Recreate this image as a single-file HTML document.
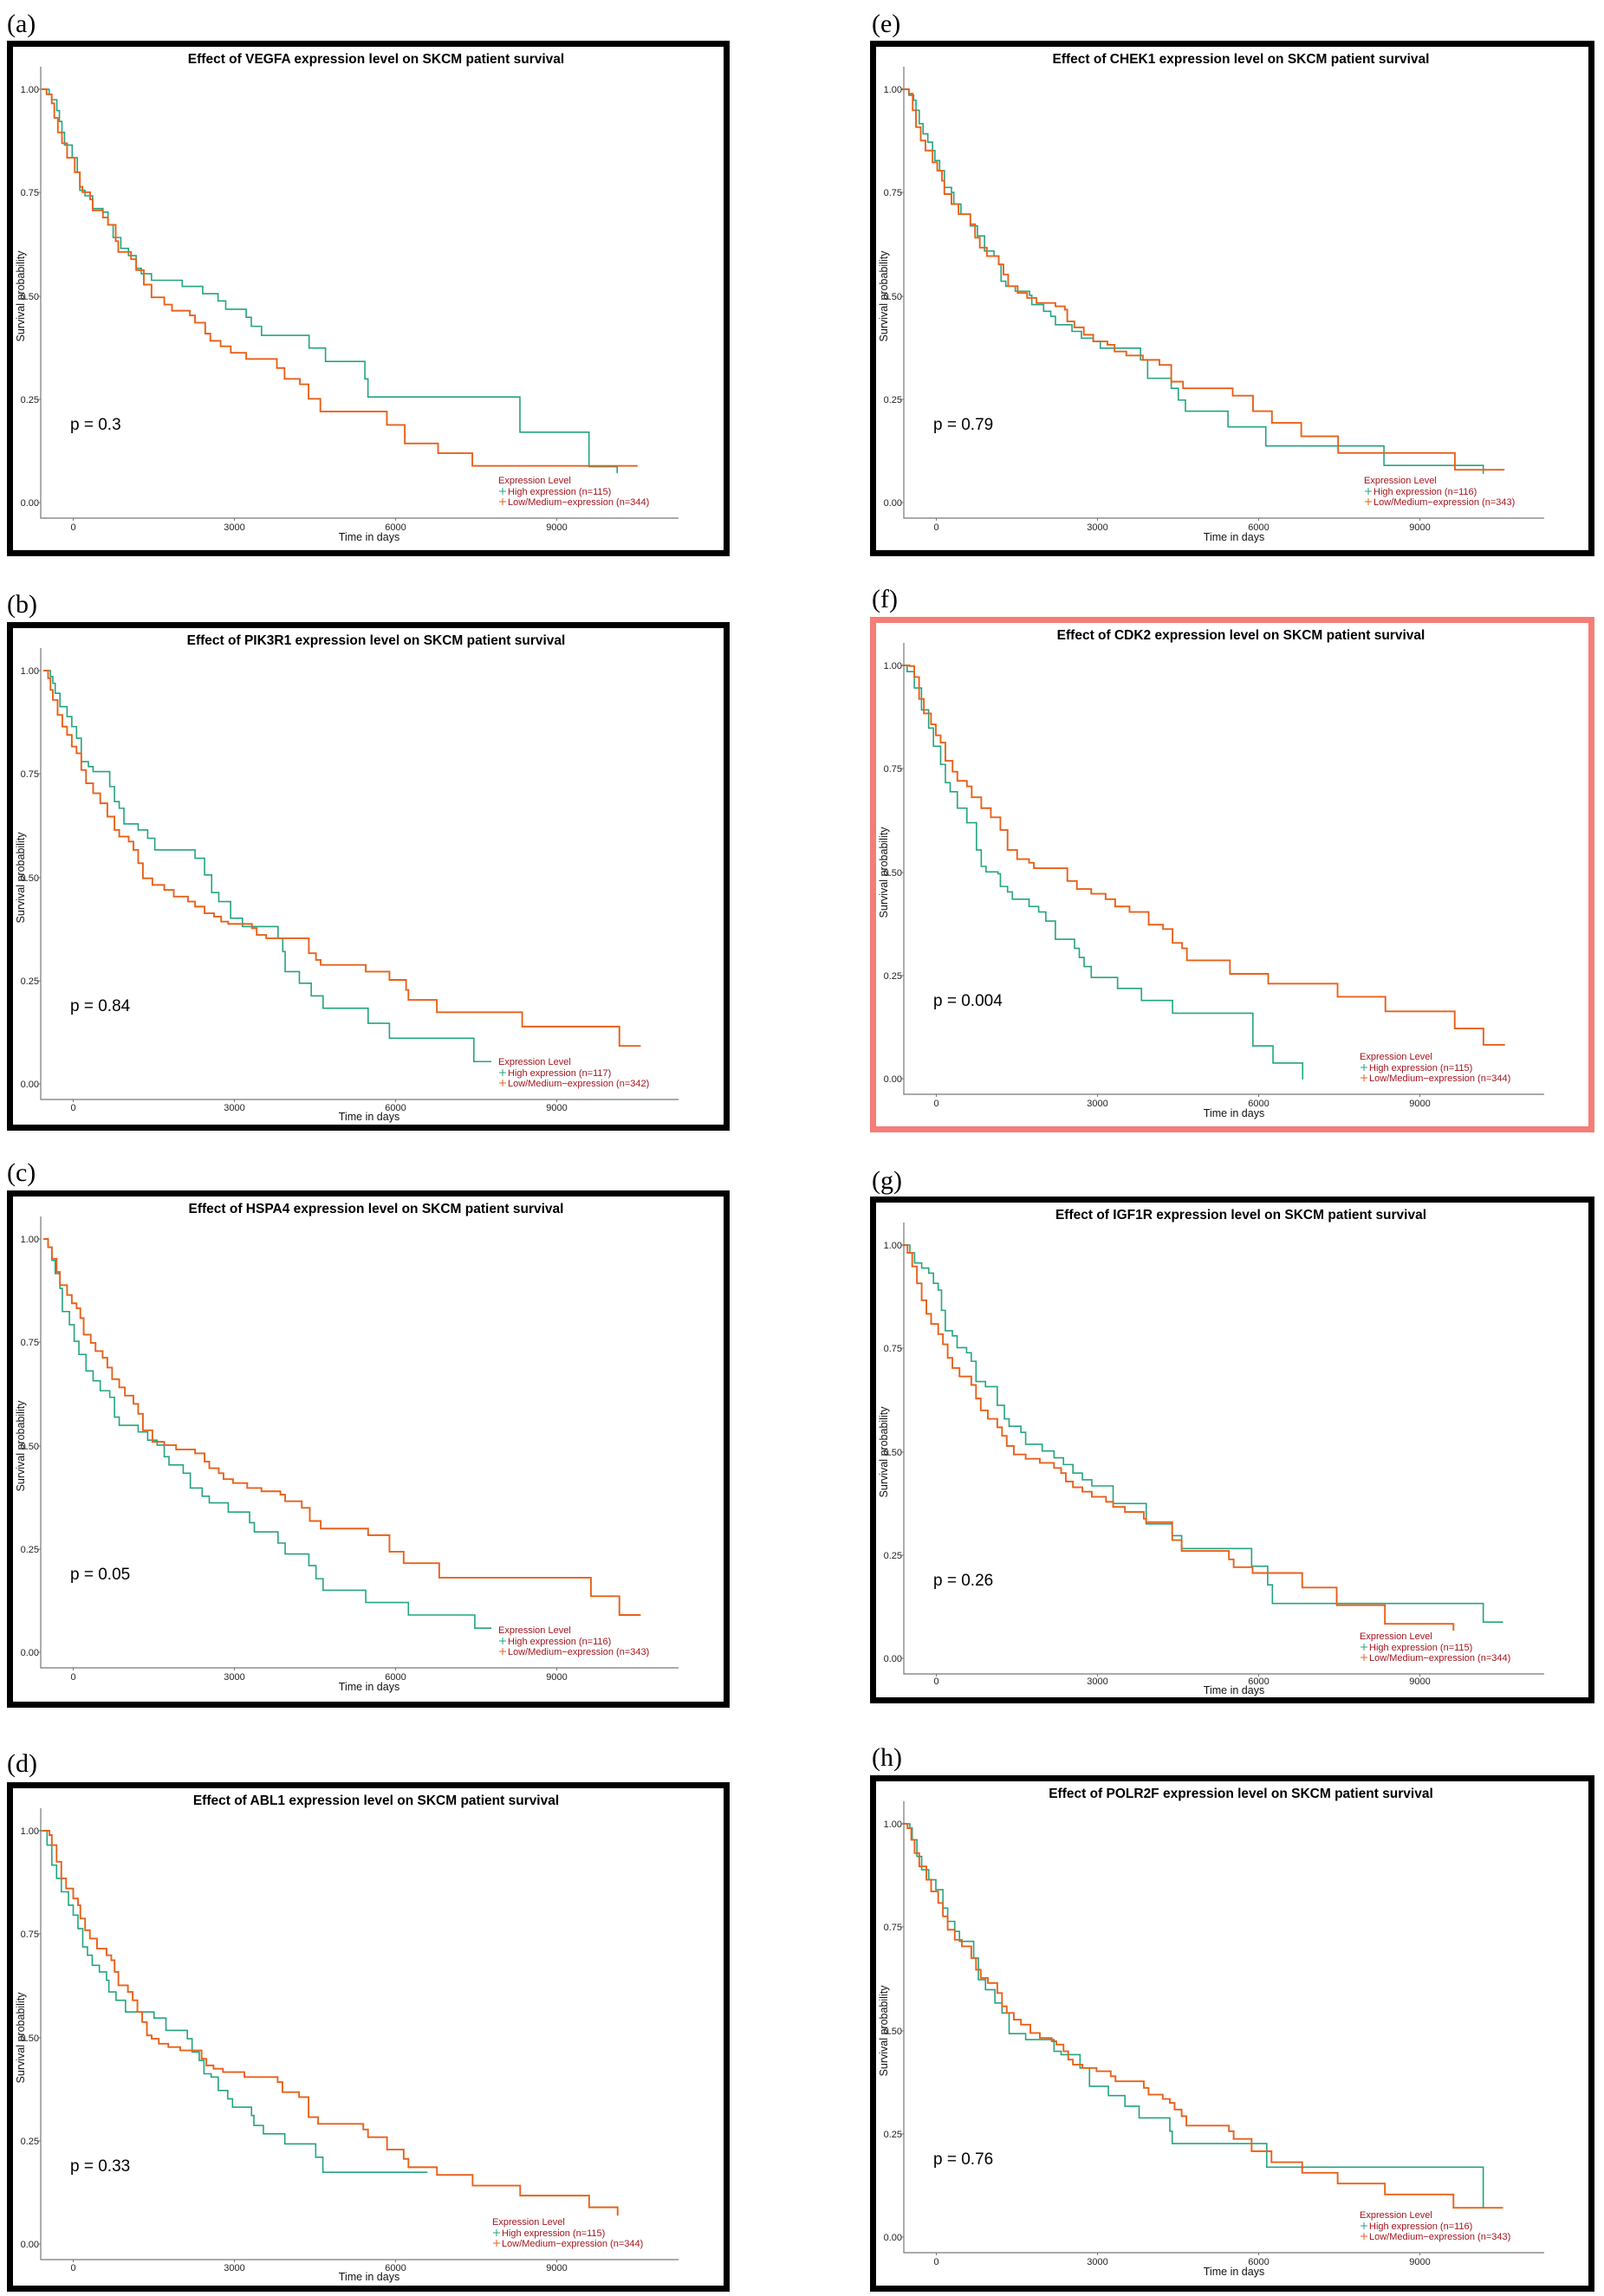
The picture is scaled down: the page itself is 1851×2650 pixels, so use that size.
<!DOCTYPE html>
<html><head><meta charset="utf-8"><style>
html,body{margin:0;padding:0;background:#fff;}
svg{display:block;}
.t{font-family:"Liberation Sans",sans-serif;font-weight:bold;font-size:15.5px;text-anchor:middle;fill:#000;}
.tk{font-family:"Liberation Sans",sans-serif;font-size:11px;fill:#222;}
.ax{font-family:"Liberation Sans",sans-serif;font-size:12.5px;fill:#111;}
.p{font-family:"Liberation Sans",sans-serif;font-size:19px;fill:#000;}
.lg{font-family:"Liberation Sans",sans-serif;font-size:11px;fill:#a3141c;}
.lab{font-family:"Liberation Serif",serif;font-size:30px;fill:#000;}
.te{fill:none;stroke:#23a480;stroke-width:1.6;vector-effect:non-scaling-stroke;}
.or{fill:none;stroke:#e8611a;stroke-width:1.9;vector-effect:non-scaling-stroke;}
</style></head><body>
<svg width="1851" height="2650" viewBox="0 0 1851 2650" xmlns="http://www.w3.org/2000/svg">
<rect width="1851" height="2650" fill="#fff"/>

<text class="lab" x="8" y="37">(a)</text>
<text class="lab" x="8" y="707">(b)</text>
<text class="lab" x="8" y="1363">(c)</text>
<text class="lab" x="8" y="2045">(d)</text>
<text class="lab" x="1006" y="37">(e)</text>
<text class="lab" x="1006" y="701">(f)</text>
<text class="lab" x="1006" y="1372">(g)</text>
<text class="lab" x="1006" y="2038">(h)</text>

<!-- (a) -->
<g transform="translate(8,47)">
<rect x="3.5" y="3.5" width="827" height="588" fill="#fff" stroke="#000" stroke-width="7"/>
<text class="t" x="426" y="26">Effect of VEGFA expression level on SKCM patient survival</text>
<g transform="translate(-7.35,-44.84) scale(0.5905,0.4184)">
<path class="te" d="M80 241 H95 V255 H100 V270 H110 V300 H115 V330 H120 V360 H125 V395 H140 V430 H150 V470 H155 V520 H165 V535 H180 V570 H200 V580 H210 V615 H220 V650 H235 V680 H250 V700 H265 V735 H275 V750 H295 V768 H355 V785 H395 V805 H425 V825 H440 V848 H480 V870 H490 V895 H510 V920 H603 V955 H635 V992 H712 V1040 H718 V1090 H1015 V1187 H1150 V1282 H1205 V1300"/>
<path class="or" d="M80 241 H90 V255 H100 V280 H105 V320 H112 V360 H120 V390 H130 V430 H145 V470 H155 V510 H160 V525 H175 V545 H180 V575 H200 V595 H210 V615 H225 V660 H230 V690 H255 V710 H265 V740 H280 V780 H295 V815 H320 V835 H335 V852 H370 V865 H380 V885 H400 V915 H410 V935 H430 V950 H450 V968 H480 V985 H540 V1010 H555 V1040 H585 V1055 H602 V1095 H625 V1130 H755 V1167 H790 V1218 H855 V1245 H922 V1280 H1245"/>
</g>
<text class="p" x="73" y="449">p = 0.3</text>
</g>

<!-- (b) -->
<g transform="translate(8,718)">
<rect x="3.5" y="3.5" width="827" height="580" fill="#fff" stroke="#000" stroke-width="7"/>
<text class="t" x="426" y="26">Effect of PIK3R1 expression level on SKCM patient survival</text>
<g transform="translate(-7.2,-2.47) scale(0.5471,0.3847)">
<path class="te" d="M90 152 H105 V170 H110 V190 H115 V220 H125 V260 H140 V290 H150 V320 H160 V355 H170 V425 H185 V440 H195 V455 H230 V500 H240 V545 H250 V565 H260 V612 H290 V630 H310 V655 H325 V690 H410 V715 H430 V765 H445 V818 H460 V845 H485 V895 H510 V920 H585 V955 H595 V995 H600 V1055 H630 V1090 H655 V1128 H680 V1165 H775 V1210 H820 V1255 H998 V1325 H1035"/>
<path class="or" d="M90 152 H100 V175 H105 V210 H110 V240 H120 V285 H130 V320 H140 V345 H150 V380 H160 V400 H170 V450 H180 V490 H195 V520 H210 V550 H225 V590 H240 V630 H250 V650 H270 V665 H280 V690 H290 V730 H300 V775 H320 V795 H345 V810 H365 V830 H395 V845 H410 V860 H430 V880 H450 V890 H465 V905 H480 V912 H530 V925 H540 V945 H560 V955 H650 V1000 H665 V1020 H675 V1035 H770 V1055 H820 V1080 H855 V1110 H860 V1140 H920 V1177 H1100 V1220 H1305 V1278 H1350"/>
</g>
<text class="p" x="73" y="449">p = 0.84</text>
</g>

<!-- (c) -->
<g transform="translate(8,1374)">
<rect x="3.5" y="3.5" width="827" height="590" fill="#fff" stroke="#000" stroke-width="7"/>
<text class="t" x="426" y="26">Effect of HSPA4 expression level on SKCM patient survival</text>
<g transform="translate(-7.2,-1.1) scale(0.5471,0.3807)">
<path class="te" d="M90 150 H100 V175 H108 V215 H115 V255 H125 V300 H130 V370 H145 V410 H155 V460 H165 V500 H180 V550 H195 V580 H210 V610 H230 V630 H240 V690 H250 V715 H290 V735 H310 V760 H330 V775 H345 V810 H355 V835 H385 V860 H400 V905 H425 V930 H440 V950 H480 V978 H525 V1010 H535 V1038 H585 V1072 H600 V1105 H650 V1140 H665 V1180 H680 V1215 H770 V1252 H860 V1290 H1000 V1330 H1035"/>
<path class="or" d="M90 150 H100 V175 H108 V210 H118 V250 H125 V290 H140 V320 H150 V345 H160 V360 H168 V390 H175 V440 H190 V465 H200 V490 H215 V510 H225 V540 H235 V575 H250 V600 H262 V625 H280 V650 H290 V680 H300 V730 H320 V765 H345 V775 H370 V788 H410 V800 H430 V825 H440 V845 H460 V860 H470 V878 H490 V890 H520 V905 H550 V915 H590 V925 H600 V945 H635 V965 H652 V1005 H675 V1028 H775 V1048 H820 V1098 H850 V1133 H925 V1177 H1245 V1233 H1305 V1290 H1350"/>
</g>
<text class="p" x="73" y="449">p = 0.05</text>
</g>

<!-- (d) -->
<g transform="translate(8,2057)">
<rect x="3.5" y="3.5" width="827" height="581" fill="#fff" stroke="#000" stroke-width="7"/>
<text class="t" x="426" y="26">Effect of ABL1 expression level on SKCM patient survival</text>
<g transform="translate(-3.06,-4.49) scale(0.5487,0.3853)">
<path class="te" d="M75 157 H90 V200 H100 V260 H110 V300 H120 V340 H135 V380 H145 V410 H155 V450 H165 V505 H175 V530 H185 V560 H200 V580 H215 V605 H220 V640 H235 V665 H255 V700 H315 V718 H340 V755 H385 V780 H395 V820 H410 V845 H420 V885 H435 V895 H450 V935 H470 V960 H480 V985 H520 V1010 H525 V1040 H545 V1065 H590 V1095 H655 V1135 H670 V1180 H890"/>
<path class="or" d="M80 157 H95 V170 H100 V200 H110 V250 H120 V300 H130 V330 H145 V360 H155 V380 H160 V420 H170 V455 H180 V480 H195 V510 H215 V530 H225 V545 H232 V580 H240 V620 H260 V640 H270 V665 H280 V700 H290 V730 H300 V770 H310 V780 H325 V795 H345 V805 H370 V815 H415 V840 H425 V860 H440 V870 H460 V880 H505 V895 H575 V910 H585 V940 H620 V955 H640 V1015 H660 V1035 H755 V1052 H765 V1075 H805 V1112 H840 V1140 H850 V1165 H910 V1188 H985 V1220 H1085 V1250 H1230 V1285 H1290 V1310"/>
</g>
<text class="p" x="73" y="449">p = 0.33</text>
</g>

<!-- (e) -->
<g transform="translate(1004,47)">
<rect x="3.5" y="3.5" width="829" height="588" fill="#fff" stroke="#000" stroke-width="7"/>
<text class="t" x="428" y="26">Effect of CHEK1 expression level on SKCM patient survival</text>
<g transform="translate(-15.14,-4.7) scale(0.5455,0.3866)">
<path class="te" d="M95 157 H110 V175 H120 V190 H125 V220 H132 V260 H140 V290 H150 V315 H160 V340 H165 V370 H175 V400 H185 V450 H200 V465 H205 V500 H220 V530 H240 V565 H255 V595 H270 V640 H290 V655 H300 V680 H305 V730 H315 V745 H335 V760 H365 V772 H370 V800 H395 V820 H410 V835 H420 V860 H455 V880 H475 V900 H500 V910 H515 V930 H600 V965 H615 V1020 H665 V1050 H680 V1085 H695 V1118 H785 V1165 H865 V1222 H1115 V1280 H1325 V1305"/>
<path class="or" d="M95 157 H110 V170 H118 V220 H125 V270 H135 V310 H145 V340 H160 V375 H170 V400 H180 V430 H185 V470 H200 V500 H215 V530 H240 V560 H250 V600 H260 V630 H275 V655 H300 V680 H310 V710 H320 V745 H340 V765 H360 V780 H380 V795 H420 V805 H440 V815 H445 V850 H460 V868 H480 V890 H500 V910 H530 V920 H545 V940 H570 V952 H605 V965 H640 V980 H665 V1030 H690 V1050 H795 V1072 H838 V1118 H878 V1153 H940 V1193 H1018 V1243 H1265 V1293 H1370"/>
</g>
<text class="p" x="73" y="449">p = 0.79</text>
</g>

<!-- (f) -->
<g transform="translate(1004,712)">
<rect x="3.5" y="3.5" width="829" height="588" fill="#fff" stroke="#f67d77" stroke-width="7"/>
<text class="t" x="428" y="26">Effect of CDK2 expression level on SKCM patient survival</text>
<g transform="translate(-15.12,-31.42) scale(0.5519,0.4203)">
<path class="te" d="M95 208 H105 V225 H120 V270 H135 V330 H150 V380 H160 V430 H175 V480 H185 V530 H195 V555 H210 V600 H230 V640 H245 V640 H250 V715 H260 V760 H270 V775 H295 V780 H300 V815 H315 V830 H325 V850 H355 V850 H360 V870 H378 V870 H380 V885 H395 V910 H412 V910 H415 V960 H455 V985 H465 V1010 H475 V1035 H490 V1065 H545 V1095 H595 V1128 H660 V1163 H828 V1253 H870 V1300 H932 V1345"/>
<path class="or" d="M95 208 H110 V210 H120 V240 H130 V300 H140 V340 H155 V370 H165 V400 H175 V420 H185 V470 H200 V500 H210 V525 H230 V540 H240 V570 H260 V600 H280 V625 H300 V660 H315 V715 H335 V740 H360 V750 H370 V765 H430 V765 H440 V800 H460 V822 H490 V835 H520 V850 H540 V870 H570 V885 H600 V885 H610 V920 H640 V932 H660 V970 H680 V985 H690 V1018 H780 V1055 H860 V1082 H1005 V1118 H1105 V1158 H1250 V1205 H1310 V1250 H1355"/>
</g>
<text class="p" x="73" y="449">p = 0.004</text>
</g>

<!-- (g) -->
<g transform="translate(1004,1381)">
<rect x="3.5" y="3.5" width="829" height="578" fill="#fff" stroke="#000" stroke-width="7"/>
<text class="t" x="428" y="26">Effect of IGF1R expression level on SKCM patient survival</text>
<g transform="translate(-11.32,-13.2) scale(0.5455,0.391)">
<path class="te" d="M90 177 H105 V200 H115 V230 H130 V245 H145 V260 H155 V290 H165 V310 H172 V370 H180 V430 H195 V445 H205 V480 H225 V495 H235 V520 H245 V580 H265 V595 H290 V650 H305 V690 H315 V712 H340 V730 H350 V765 H385 V785 H410 V805 H430 V825 H450 V850 H470 V870 H490 V888 H535 V940 H605 V1000 H660 V1035 H680 V1073 H828 V1125 H862 V1180 H872 V1235 H1318 V1290 H1360"/>
<path class="or" d="M90 177 H100 V200 H110 V240 H120 V290 H130 V340 H140 V380 H150 V410 H165 V440 H175 V470 H185 V510 H195 V540 H210 V565 H235 V590 H245 V630 H255 V665 H270 V690 H290 V715 H300 V740 H310 V770 H325 V795 H350 V808 H380 V820 H410 V835 H425 V850 H435 V875 H450 V892 H470 V905 H490 V920 H520 V935 H535 V950 H560 V965 H600 V985 H605 V995 H660 V1048 H680 V1080 H780 V1105 H790 V1128 H830 V1145 H935 V1188 H1008 V1240 H1110 V1295 H1255 V1315"/>
</g>
<text class="p" x="73" y="449">p = 0.26</text>
</g>

<!-- (h) -->
<g transform="translate(1004,2049)">
<rect x="3.5" y="3.5" width="829" height="589" fill="#fff" stroke="#000" stroke-width="7"/>
<text class="t" x="428" y="26">Effect of POLR2F expression level on SKCM patient survival</text>
<g transform="translate(-11.32,-2.43) scale(0.5455,0.3844)">
<path class="te" d="M90 152 H105 V165 H110 V200 H120 V250 H130 V290 H145 V320 H160 V350 H175 V405 H185 V445 H200 V475 H210 V505 H240 V555 H250 V620 H265 V650 H285 V690 H300 V720 H315 V782 H350 V800 H410 V835 H425 V845 H465 V885 H485 V940 H525 V968 H560 V1000 H590 V1035 H655 V1075 H660 V1112 H860 V1183 H1318 V1306"/>
<path class="or" d="M90 152 H100 V165 H108 V200 H115 V240 H125 V280 H140 V320 H150 V355 H165 V390 H175 V430 H185 V470 H200 V500 H215 V520 H235 V555 H245 V590 H255 V615 H270 V630 H290 V660 H300 V700 H310 V720 H325 V740 H340 V755 H360 V780 H380 V795 H405 V805 H415 V815 H430 V835 H440 V860 H450 V875 H470 V885 H500 V895 H530 V910 H540 V925 H600 V945 H610 V965 H640 V978 H655 V990 H665 V1010 H680 V1030 H690 V1058 H780 V1075 H790 V1098 H828 V1135 H870 V1168 H935 V1200 H1010 V1232 H1110 V1265 H1255 V1305 H1360"/>
</g>
<text class="p" x="73" y="449">p = 0.76</text>
</g>

<g id="axes">
<g transform="translate(8,47)">
<path d="M39 30 V551 H775" fill="none" stroke="#777" stroke-width="1.2"/>
<path d="M36 56 H39 M36 175 H39 M36 295 H39 M36 414 H39 M36 533 H39 M76.5 551 V554 M262.5 551 V554 M448.5 551 V554 M634.5 551 V554" stroke="#777"/>
<text class="tk" x="37" y="60" text-anchor="end">1.00</text><text class="tk" x="37" y="179" text-anchor="end">0.75</text><text class="tk" x="37" y="299" text-anchor="end">0.50</text><text class="tk" x="37" y="418" text-anchor="end">0.25</text><text class="tk" x="37" y="537" text-anchor="end">0.00</text>
<text class="tk" x="76.5" y="565" text-anchor="middle">0</text><text class="tk" x="262.5" y="565" text-anchor="middle">3000</text><text class="tk" x="448.5" y="565" text-anchor="middle">6000</text><text class="tk" x="634.5" y="565" text-anchor="middle">9000</text>
<text class="ax" x="418" y="577" text-anchor="middle">Time in days</text>
<text class="ax" transform="translate(20,295) rotate(-90)" text-anchor="middle">Survival probability</text>
<text class="lg" x="567" y="511">Expression Level</text>
<path d="M568 520 H576 M572 516 V524" stroke="#23a480"/><text class="lg" x="578" y="524">High expression (n=115)</text>
<path d="M568 532 H576 M572 528 V536" stroke="#e8611a"/><text class="lg" x="578" y="536">Low/Medium−expression (n=344)</text>
</g>
<g transform="translate(8,718)">
<path d="M39 30 V551 H775" fill="none" stroke="#777" stroke-width="1.2"/>
<path d="M36 56 H39 M36 175 H39 M36 295 H39 M36 414 H39 M36 533 H39 M76.5 551 V554 M262.5 551 V554 M448.5 551 V554 M634.5 551 V554" stroke="#777"/>
<text class="tk" x="37" y="60" text-anchor="end">1.00</text><text class="tk" x="37" y="179" text-anchor="end">0.75</text><text class="tk" x="37" y="299" text-anchor="end">0.50</text><text class="tk" x="37" y="418" text-anchor="end">0.25</text><text class="tk" x="37" y="537" text-anchor="end">0.00</text>
<text class="tk" x="76.5" y="564" text-anchor="middle">0</text><text class="tk" x="262.5" y="564" text-anchor="middle">3000</text><text class="tk" x="448.5" y="564" text-anchor="middle">6000</text><text class="tk" x="634.5" y="564" text-anchor="middle">9000</text>
<text class="ax" x="418" y="575" text-anchor="middle">Time in days</text>
<text class="ax" transform="translate(20,295) rotate(-90)" text-anchor="middle">Survival probability</text>
<text class="lg" x="567" y="511">Expression Level</text>
<path d="M568 520 H576 M572 516 V524" stroke="#23a480"/><text class="lg" x="578" y="524">High expression (n=117)</text>
<path d="M568 532 H576 M572 528 V536" stroke="#e8611a"/><text class="lg" x="578" y="536">Low/Medium−expression (n=342)</text>
</g>
<g transform="translate(8,1374)">
<path d="M39 30 V551 H775" fill="none" stroke="#777" stroke-width="1.2"/>
<path d="M36 56 H39 M36 175 H39 M36 295 H39 M36 414 H39 M36 533 H39 M76.5 551 V554 M262.5 551 V554 M448.5 551 V554 M634.5 551 V554" stroke="#777"/>
<text class="tk" x="37" y="60" text-anchor="end">1.00</text><text class="tk" x="37" y="179" text-anchor="end">0.75</text><text class="tk" x="37" y="299" text-anchor="end">0.50</text><text class="tk" x="37" y="418" text-anchor="end">0.25</text><text class="tk" x="37" y="537" text-anchor="end">0.00</text>
<text class="tk" x="76.5" y="565" text-anchor="middle">0</text><text class="tk" x="262.5" y="565" text-anchor="middle">3000</text><text class="tk" x="448.5" y="565" text-anchor="middle">6000</text><text class="tk" x="634.5" y="565" text-anchor="middle">9000</text>
<text class="ax" x="418" y="577" text-anchor="middle">Time in days</text>
<text class="ax" transform="translate(20,295) rotate(-90)" text-anchor="middle">Survival probability</text>
<text class="lg" x="567" y="511">Expression Level</text>
<path d="M568 520 H576 M572 516 V524" stroke="#23a480"/><text class="lg" x="578" y="524">High expression (n=116)</text>
<path d="M568 532 H576 M572 528 V536" stroke="#e8611a"/><text class="lg" x="578" y="536">Low/Medium−expression (n=343)</text>
</g>
<g transform="translate(8,2057)">
<path d="M39 30 V551 H775" fill="none" stroke="#777" stroke-width="1.2"/>
<path d="M36 56 H39 M36 175 H39 M36 295 H39 M36 414 H39 M36 533 H39 M76.5 551 V554 M262.5 551 V554 M448.5 551 V554 M634.5 551 V554" stroke="#777"/>
<text class="tk" x="37" y="60" text-anchor="end">1.00</text><text class="tk" x="37" y="179" text-anchor="end">0.75</text><text class="tk" x="37" y="299" text-anchor="end">0.50</text><text class="tk" x="37" y="418" text-anchor="end">0.25</text><text class="tk" x="37" y="537" text-anchor="end">0.00</text>
<text class="tk" x="76.5" y="564" text-anchor="middle">0</text><text class="tk" x="262.5" y="564" text-anchor="middle">3000</text><text class="tk" x="448.5" y="564" text-anchor="middle">6000</text><text class="tk" x="634.5" y="564" text-anchor="middle">9000</text>
<text class="ax" x="418" y="575" text-anchor="middle">Time in days</text>
<text class="ax" transform="translate(20,295) rotate(-90)" text-anchor="middle">Survival probability</text>
<text class="lg" x="560" y="511">Expression Level</text>
<path d="M561 520 H569 M565 516 V524" stroke="#23a480"/><text class="lg" x="571" y="524">High expression (n=115)</text>
<path d="M561 532 H569 M565 528 V536" stroke="#e8611a"/><text class="lg" x="571" y="536">Low/Medium−expression (n=344)</text>
</g>
<g transform="translate(1004,47)">
<path d="M39 30 V551 H778" fill="none" stroke="#777" stroke-width="1.2"/>
<path d="M36 56 H39 M36 175 H39 M36 295 H39 M36 414 H39 M36 533 H39 M76.5 551 V554 M262.5 551 V554 M448.5 551 V554 M634.5 551 V554" stroke="#777"/>
<text class="tk" x="37" y="60" text-anchor="end">1.00</text><text class="tk" x="37" y="179" text-anchor="end">0.75</text><text class="tk" x="37" y="299" text-anchor="end">0.50</text><text class="tk" x="37" y="418" text-anchor="end">0.25</text><text class="tk" x="37" y="537" text-anchor="end">0.00</text>
<text class="tk" x="76.5" y="565" text-anchor="middle">0</text><text class="tk" x="262.5" y="565" text-anchor="middle">3000</text><text class="tk" x="448.5" y="565" text-anchor="middle">6000</text><text class="tk" x="634.5" y="565" text-anchor="middle">9000</text>
<text class="ax" x="420" y="577" text-anchor="middle">Time in days</text>
<text class="ax" transform="translate(20,295) rotate(-90)" text-anchor="middle">Survival probability</text>
<text class="lg" x="570" y="511">Expression Level</text>
<path d="M571 520 H579 M575 516 V524" stroke="#23a480"/><text class="lg" x="581" y="524">High expression (n=116)</text>
<path d="M571 532 H579 M575 528 V536" stroke="#e8611a"/><text class="lg" x="581" y="536">Low/Medium−expression (n=343)</text>
</g>
<g transform="translate(1004,712)">
<path d="M39 30 V551 H778" fill="none" stroke="#777" stroke-width="1.2"/>
<path d="M36 56 H39 M36 175 H39 M36 295 H39 M36 414 H39 M36 533 H39 M76.5 551 V554 M262.5 551 V554 M448.5 551 V554 M634.5 551 V554" stroke="#777"/>
<text class="tk" x="37" y="60" text-anchor="end">1.00</text><text class="tk" x="37" y="179" text-anchor="end">0.75</text><text class="tk" x="37" y="299" text-anchor="end">0.50</text><text class="tk" x="37" y="418" text-anchor="end">0.25</text><text class="tk" x="37" y="537" text-anchor="end">0.00</text>
<text class="tk" x="76.5" y="565" text-anchor="middle">0</text><text class="tk" x="262.5" y="565" text-anchor="middle">3000</text><text class="tk" x="448.5" y="565" text-anchor="middle">6000</text><text class="tk" x="634.5" y="565" text-anchor="middle">9000</text>
<text class="ax" x="420" y="577" text-anchor="middle">Time in days</text>
<text class="ax" transform="translate(20,295) rotate(-90)" text-anchor="middle">Survival probability</text>
<text class="lg" x="565" y="511">Expression Level</text>
<path d="M566 520 H574 M570 516 V524" stroke="#23a480"/><text class="lg" x="576" y="524">High expression (n=115)</text>
<path d="M566 532 H574 M570 528 V536" stroke="#e8611a"/><text class="lg" x="576" y="536">Low/Medium−expression (n=344)</text>
</g>
<g transform="translate(1004,1381)">
<path d="M39 30 V551 H778" fill="none" stroke="#777" stroke-width="1.2"/>
<path d="M36 56 H39 M36 175 H39 M36 295 H39 M36 414 H39 M36 533 H39 M76.5 551 V554 M262.5 551 V554 M448.5 551 V554 M634.5 551 V554" stroke="#777"/>
<text class="tk" x="37" y="60" text-anchor="end">1.00</text><text class="tk" x="37" y="179" text-anchor="end">0.75</text><text class="tk" x="37" y="299" text-anchor="end">0.50</text><text class="tk" x="37" y="418" text-anchor="end">0.25</text><text class="tk" x="37" y="537" text-anchor="end">0.00</text>
<text class="tk" x="76.5" y="563" text-anchor="middle">0</text><text class="tk" x="262.5" y="563" text-anchor="middle">3000</text><text class="tk" x="448.5" y="563" text-anchor="middle">6000</text><text class="tk" x="634.5" y="563" text-anchor="middle">9000</text>
<text class="ax" x="420" y="574" text-anchor="middle">Time in days</text>
<text class="ax" transform="translate(20,295) rotate(-90)" text-anchor="middle">Survival probability</text>
<text class="lg" x="565" y="511">Expression Level</text>
<path d="M566 520 H574 M570 516 V524" stroke="#23a480"/><text class="lg" x="576" y="524">High expression (n=115)</text>
<path d="M566 532 H574 M570 528 V536" stroke="#e8611a"/><text class="lg" x="576" y="536">Low/Medium−expression (n=344)</text>
</g>
<g transform="translate(1004,2049)">
<path d="M39 30 V551 H778" fill="none" stroke="#777" stroke-width="1.2"/>
<path d="M36 56 H39 M36 175 H39 M36 295 H39 M36 414 H39 M36 533 H39 M76.5 551 V554 M262.5 551 V554 M448.5 551 V554 M634.5 551 V554" stroke="#777"/>
<text class="tk" x="37" y="60" text-anchor="end">1.00</text><text class="tk" x="37" y="179" text-anchor="end">0.75</text><text class="tk" x="37" y="299" text-anchor="end">0.50</text><text class="tk" x="37" y="418" text-anchor="end">0.25</text><text class="tk" x="37" y="537" text-anchor="end">0.00</text>
<text class="tk" x="76.5" y="565" text-anchor="middle">0</text><text class="tk" x="262.5" y="565" text-anchor="middle">3000</text><text class="tk" x="448.5" y="565" text-anchor="middle">6000</text><text class="tk" x="634.5" y="565" text-anchor="middle">9000</text>
<text class="ax" x="420" y="577" text-anchor="middle">Time in days</text>
<text class="ax" transform="translate(20,295) rotate(-90)" text-anchor="middle">Survival probability</text>
<text class="lg" x="565" y="511">Expression Level</text>
<path d="M566 520 H574 M570 516 V524" stroke="#23a480"/><text class="lg" x="576" y="524">High expression (n=116)</text>
<path d="M566 532 H574 M570 528 V536" stroke="#e8611a"/><text class="lg" x="576" y="536">Low/Medium−expression (n=343)</text>
</g>
</g>
</svg>
</body></html>
